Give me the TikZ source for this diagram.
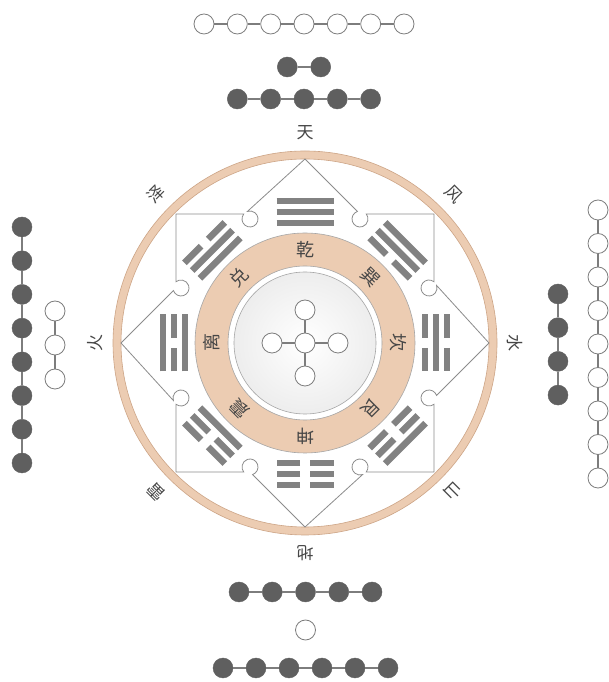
\documentclass[tikz,border=0pt]{standalone}
\usepackage{fontspec}
\newfontfamily\cjk{Noto Sans CJK SC}
\definecolor{tanc}{RGB}{236,204,178}
\definecolor{tanedge}{RGB}{205,165,135}
\definecolor{barc}{RGB}{130,130,130}
\definecolor{dotc}{RGB}{95,95,95}
\definecolor{lnc}{RGB}{125,125,125}
\definecolor{txtc}{RGB}{70,70,70}
\definecolor{framec}{RGB}{140,140,140}
\tikzset{
  yin/.style={circle, fill=dotc, draw=dotc, minimum size=20pt, inner sep=0pt},
  yang/.style={circle, fill=white, draw=lnc, line width=0.8pt, minimum size=20pt, inner sep=0pt},
  link/.style={draw=lnc, line width=1.1pt},
  lblin/.style={font=\cjk\fontsize{18}{18}\selectfont, text=txtc, inner sep=0pt},
  lblout/.style={font=\cjk\fontsize{17}{17}\selectfont, text=txtc, inner sep=0pt},
  barline/.style={line width=6.5pt, draw=barc},
  framel/.style={draw=framec, line width=0.8pt},
  ringedge/.style={draw=tanedge, line width=0.6pt},
  inedge/.style={draw=gray!70, line width=0.6pt},
}
\newcommand{\yaoline}[2]{%
  \ifnum#2=1
    \draw[barline] (-28.5,#1) -- (28.5,#1);
  \else
    \draw[barline] (-28.5,#1) -- (-5,#1);
    \draw[barline] (5,#1) -- (28.5,#1);
  \fi}
\begin{document}
\begin{tikzpicture}[x=1pt,y=1pt]
\useasboundingbox (0,0) rectangle (608,682);
\fill[white] (0,0) rectangle (608,682);
\begin{scope}[shift={(305,339)}]
  % outer ring
  \fill[tanc, even odd rule] (0,0) circle[radius=192] (0,0) circle[radius=184];
  \draw[ringedge] (0,0) circle[radius=192] (0,0) circle[radius=184];
  % frame (square + diamond with notches)
  \foreach \r in {0,90,180,270}{
    \draw[framel, rotate=\r] (0,184) -- (52.43,131.57)
      arc[start angle=108.75, end angle=398.66, radius=8]
      -- (129,129) -- (129,61.25)
      arc[start angle=51.34, end angle=378.75, radius=8]
      -- (184,0);
  }
  % inner annulus
  \fill[tanc, even odd rule] (0,0) circle[radius=110] (0,0) circle[radius=77];
  \draw[inedge] (0,0) circle[radius=110] (0,0) circle[radius=77];
  \shade[inner color=white, outer color=gray!14] (0,0) circle[radius=71];
  \draw[inedge] (0,0) circle[radius=71];
  % trigrams (bottom line innermost)
  \foreach \a/\b/\m/\t in {90/1/1/1, 45/0/1/1, 0/0/1/0, -45/0/0/1, -90/0/0/0, -135/1/0/0, 180/1/0/1, 135/1/1/0}{
    \begin{scope}[rotate=\a-90]
      \yaoline{120}{\b}
      \yaoline{131}{\m}
      \yaoline{142}{\t}
    \end{scope}
  }
  % inner labels
  \foreach \t/\a [count=\i] in {乾/90, 巽/45, 坎/0, 艮/-45, 坤/-90, 震/-135, 离/180, 兑/135}{
    \node[lblin, rotate=\a-90] (in\i) at (\a:93) {\t};
  }
  % outer labels
  \foreach \t/\a [count=\i] in {天/90, 风/45, 水/0, 山/-45, 地/-90, 雷/-135, 火/180, 泽/135}{
    \node[lblout, rotate=\a-90] (out\i) at (\a:210) {\t};
  }
  % centre cross
  \node[yang] (c0) at (0,0) {};
  \node[yang] (c1) at (0,33) {};
  \node[yang] (c2) at (33,0) {};
  \node[yang] (c3) at (0,-33) {};
  \node[yang] (c4) at (-33,0) {};
  \foreach \i in {1,...,4}{\draw[link] (c0) -- (c\i);}
\end{scope}
% top chains
\foreach \i in {0,...,6}{\node[yang] (ta\i) at ({204+\i*33.333},658) {};}
\foreach \i in {1,...,6}{\pgfmathtruncatemacro\j{\i-1}\draw[link] (ta\j) -- (ta\i);}
\node[yin] (tb0) at (287.3,615) {};
\node[yin] (tb1) at (320.7,615) {};
\draw[link] (tb0) -- (tb1);
\foreach \i in {0,...,4}{\node[yin] (tc\i) at ({237.3+\i*33.333},583) {};}
\foreach \i in {1,...,4}{\pgfmathtruncatemacro\j{\i-1}\draw[link] (tc\j) -- (tc\i);}
% bottom chains
\foreach \i in {0,...,4}{\node[yin] (ba\i) at ({239+\i*33.25},90) {};}
\foreach \i in {1,...,4}{\pgfmathtruncatemacro\j{\i-1}\draw[link] (ba\j) -- (ba\i);}
\node[yang] (bb0) at (305.5,52) {};
\foreach \i in {0,...,5}{\node[yin] (bc\i) at ({223+\i*33},14) {};}
\foreach \i in {1,...,5}{\pgfmathtruncatemacro\j{\i-1}\draw[link] (bc\j) -- (bc\i);}
% left chains
\foreach \i in {0,...,7}{\node[yin] (la\i) at (22,{455-\i*33.714}) {};}
\foreach \i in {1,...,7}{\pgfmathtruncatemacro\j{\i-1}\draw[link] (la\j) -- (la\i);}
\foreach \i in {0,...,2}{\node[yang] (lb\i) at (55,{371-\i*34}) {};}
\foreach \i in {1,...,2}{\pgfmathtruncatemacro\j{\i-1}\draw[link] (lb\j) -- (lb\i);}
% right chains
\foreach \i in {0,...,8}{\node[yang] (ra\i) at (598,{472-\i*33.5}) {};}
\foreach \i in {1,...,8}{\pgfmathtruncatemacro\j{\i-1}\draw[link] (ra\j) -- (ra\i);}
\foreach \i in {0,...,3}{\node[yin] (rb\i) at (558,{388-\i*33.7}) {};}
\foreach \i in {1,...,3}{\pgfmathtruncatemacro\j{\i-1}\draw[link] (rb\j) -- (rb\i);}
\end{tikzpicture}
\end{document}
